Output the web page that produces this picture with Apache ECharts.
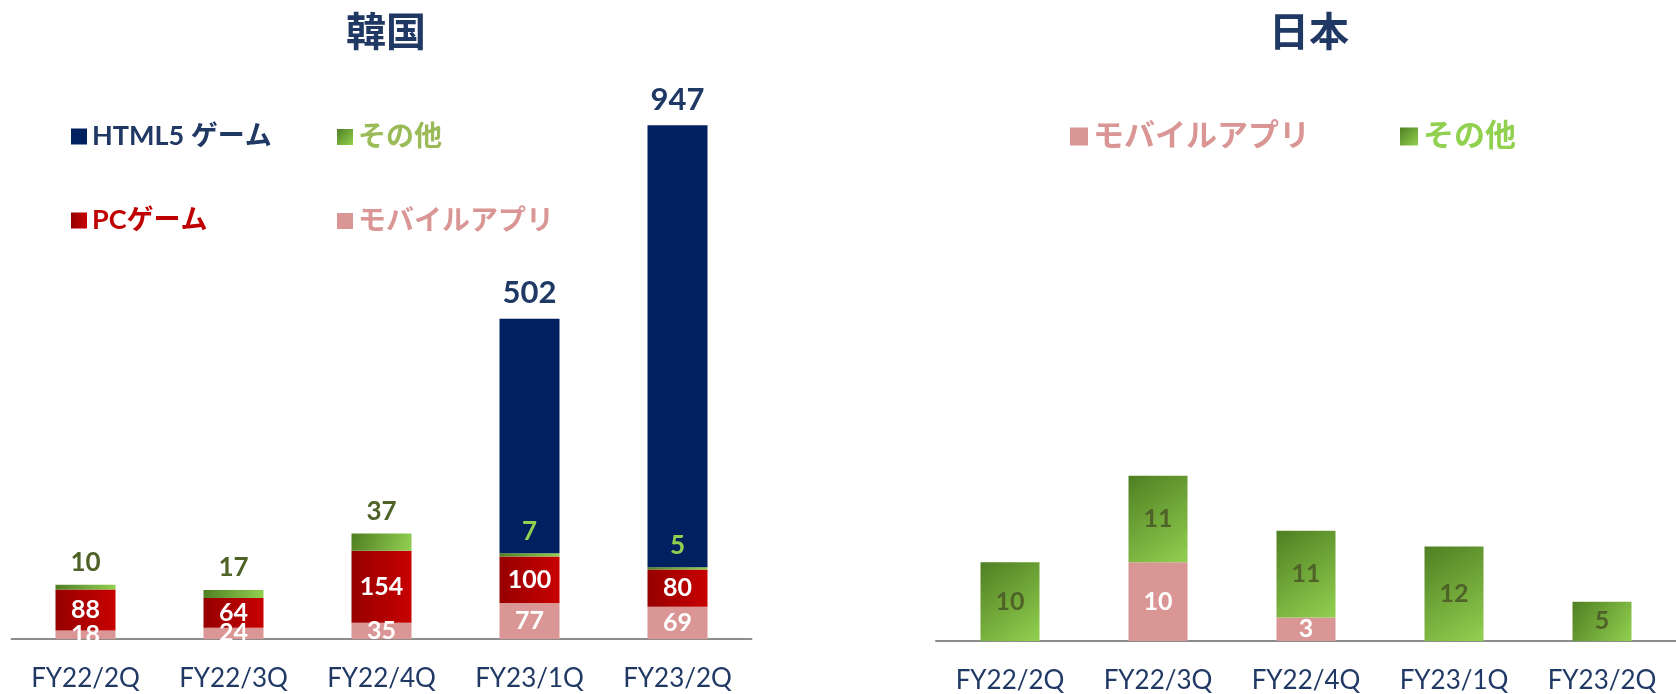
<!DOCTYPE html>
<html lang="ja">
<head>
    <meta charset="UTF-8">
    <title>韓国・日本</title>
    <style>
        html, body { margin: 0; padding: 0; background: #fff; }
        #main { width: 1676px; height: 694px; }
    </style>
    <script type="text/javascript" src="https://cdn.jsdelivr.net/npm/echarts@6/dist/echarts.min.js"></script>
</head>
<body>
<div id="main"></div>
<script>
    // 四半期
    var cats = ['FY22/2Q', 'FY22/3Q', 'FY22/4Q', 'FY23/1Q', 'FY23/2Q'];
    // 韓国
    var krMobile = [18, 24, 35, 77, 69];
    var krPc = [88, 64, 154, 100, 80];
    var krOther = [10, 17, 37, 7, 5];
    var krHtml5 = [0, 0, 0, 502, 947];
    // 日本
    var jpMobile = [0, 10, 3, 0, 0];
    var jpOther = [10, 11, 11, 12, 5];

    var FONT = "Lato, 'Noto Sans CJK JP', sans-serif";
    var NAVY = '#1F3864';
    var greenGrad = new echarts.graphic.LinearGradient(0, 0, 1, 1, [
        {offset: 0, color: '#4F7F22'},
        {offset: 1, color: '#92D050'}
    ]);
    var redGrad = new echarts.graphic.LinearGradient(0, 0, 1, 0, [
        {offset: 0, color: '#960000'},
        {offset: 1, color: '#C80000'}
    ]);

    function hideZero(p) {
        return p.value ? p.value : '';
    }

    // 凡例はひとつずつ置く
    function legendItem(name, color, left, top, size, box) {
        return {
            left: left, top: top, padding: 0, itemWidth: box, itemHeight: box, icon: 'rect', selectedMode: false,
            textStyle: {fontSize: size, fontWeight: 'bold', fontFamily: FONT},
            data: [{name: name, textStyle: {color: color}}]
        };
    }

    var chart = echarts.init(document.getElementById('main'));

    var inner = {show: true, position: 'inside', color: '#fff', fontFamily: FONT, fontWeight: 'bold', fontSize: 25, formatter: hideZero};

    var option = {
        animation: false,
        title: [
            {text: '韓国', left: 381, top: 6, textAlign: 'center',
                textStyle: {color: NAVY, fontSize: 40, fontWeight: 'bold', fontFamily: "'Noto Sans CJK JP'"}},
            {text: '日本', left: 1304, top: 6, textAlign: 'center',
                textStyle: {color: NAVY, fontSize: 40, fontWeight: 'bold', fontFamily: "'Noto Sans CJK JP'"}}
        ],
        legend: [
            legendItem('HTML5 ゲーム', NAVY, 71, 123, 27, 16),
            legendItem('その他', '#9BBB59', 337, 123, 28, 16),
            legendItem('PCゲーム', '#C00000', 71, 207, 27, 16),
            legendItem('モバイルアプリ', '#D99694', 337, 207, 28, 16),
            legendItem('モバイルアプリ', '#D99694', 1070, 121, 31, 18),
            legendItem('その他', '#92D050', 1400, 121, 31, 18)
        ],
        grid: [
            {left: 11.5, width: 740, top: 79, height: 560},
            {left: 936, width: 742, top: 326, height: 316}
        ],
        xAxis: [0, 1].map(function (i) {
            return {
                type: 'category', gridIndex: i, data: cats,
                axisTick: {show: false},
                axisLine: {lineStyle: {color: '#8C8C8C', width: 2}},
                axisLabel: {color: NAVY, fontSize: 26, fontFamily: FONT, margin: 27}
            };
        }),
        yAxis: [
            {type: 'value', gridIndex: 0, min: 0, max: 1200, show: false, splitLine: {show: false}},
            {type: 'value', gridIndex: 1, min: 0, max: 40, show: false, splitLine: {show: false}}
        ],
        series: [
            {name: 'モバイルアプリ', type: 'bar', stack: 'kr', xAxisIndex: 0, yAxisIndex: 0, barWidth: 60,
                itemStyle: {color: '#D99694'}, label: inner, data: krMobile},
            {name: 'PCゲーム', type: 'bar', stack: 'kr', xAxisIndex: 0, yAxisIndex: 0, barWidth: 60,
                itemStyle: {color: redGrad}, label: inner, data: krPc},
            {name: 'その他', type: 'bar', stack: 'kr', xAxisIndex: 0, yAxisIndex: 0, barWidth: 60,
                itemStyle: {color: greenGrad},
                label: {show: true, position: 'top', distance: 9, fontFamily: FONT, fontWeight: 'bold', fontSize: 26},
                data: krOther.map(function (v, i) {
                    return {value: v, label: {color: krHtml5[i] > 0 ? '#92D050' : '#4F6228'}};
                })},
            {name: 'HTML5 ゲーム', type: 'bar', stack: 'kr', xAxisIndex: 0, yAxisIndex: 0, barWidth: 60,
                itemStyle: {color: '#002060'},
                label: {show: true, position: 'top', distance: 10, color: NAVY, fontFamily: FONT, fontWeight: 'bold', fontSize: 31, formatter: hideZero},
                data: krHtml5},
            {name: 'モバイルアプリ', type: 'bar', stack: 'jp', xAxisIndex: 1, yAxisIndex: 1, barWidth: 59,
                itemStyle: {color: '#D99694'}, label: inner, data: jpMobile},
            {name: 'その他', type: 'bar', stack: 'jp', xAxisIndex: 1, yAxisIndex: 1, barWidth: 59,
                itemStyle: {color: greenGrad},
                label: {show: true, position: 'inside', color: '#4F6228', fontFamily: FONT, fontWeight: 'bold', fontSize: 25, formatter: hideZero},
                data: jpOther}
        ]
    };
    chart.setOption(option);
</script>
</body>
</html>
